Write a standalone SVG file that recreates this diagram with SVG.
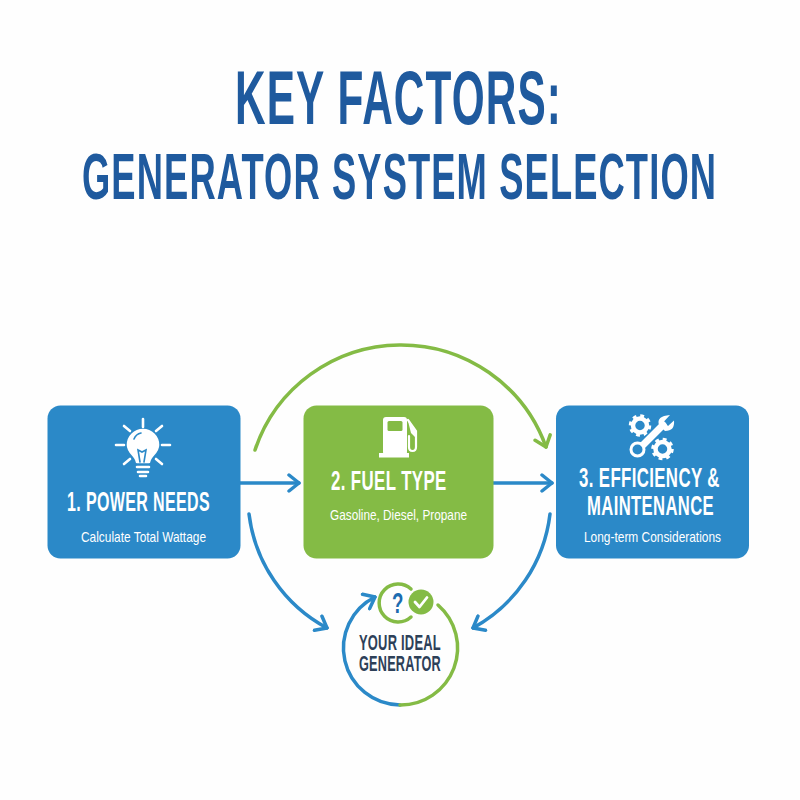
<svg xmlns="http://www.w3.org/2000/svg" width="800" height="800" viewBox="0 0 800 800">
<style>
text{font-family:"Liberation Sans",Arial,sans-serif;text-anchor:start}
.t{fill:#1f5a9e;font-weight:700;letter-spacing:2px}
.h{fill:#fff;font-weight:700;font-size:27px;letter-spacing:.6px}
.s{fill:#fff;font-size:15px}
.d{fill:#2d4058;font-weight:700;font-size:22.500px;letter-spacing:.4px}
.box{stroke:none}
.b{fill:#2b89c8}.g{fill:#84bb45}
.c{fill:none;stroke-width:3.500;stroke-linecap:round}
.cb{stroke:#2b89c8}.cg{stroke:#84bb45}
.w{fill:none;stroke:#fff;stroke-linecap:round;stroke-linejoin:round}
</style>
<defs>
<marker id="ab" viewBox="0 0 14 20" refX="12" refY="10" markerWidth="14" markerHeight="20" markerUnits="userSpaceOnUse" orient="auto"><path d="M2 2L12 10L2 18" fill="none" stroke="#2b89c8" stroke-width="3.500" stroke-linecap="round" stroke-linejoin="round"/></marker>
<marker id="ag" viewBox="0 0 14 20" refX="12" refY="10" markerWidth="14" markerHeight="20" markerUnits="userSpaceOnUse" orient="auto"><path d="M2 2L12 10L2 18" fill="none" stroke="#84bb45" stroke-width="3.500" stroke-linecap="round" stroke-linejoin="round"/></marker>
</defs>
<rect width="800" height="800" fill="#fefefe"/>
<g id="title">
<text class="t" transform="translate(235 124) scale(.56 1)" font-size="76" textLength="584" lengthAdjust="spacingAndGlyphs">KEY FACTORS:</text>
<text class="t" transform="translate(82 199) scale(.58 1)" font-size="64" textLength="1095" lengthAdjust="spacingAndGlyphs">GENERATOR SYSTEM SELECTION</text>
</g>
<g id="connectors">
<path class="c cb" d="M240 483H299" marker-end="url(#ab)"/>
<path class="c cb" d="M493 483H552" marker-end="url(#ab)"/>
<path class="c cg" d="M255 450A154 154 0 0 1 546 447" marker-end="url(#ag)"/>
<path class="c cb" d="M249 514A150 150 0 0 0 327 628" marker-end="url(#ab)"/>
<path class="c cb" d="M550 514A150 150 0 0 1 473 628" marker-end="url(#ab)"/>
</g>
<g id="node-power">
<rect class="box b" x="47.5" y="405.5" width="193" height="153" rx="13"/>
<g class="w" stroke-width="2.600">
<path d="M143 419V427M116 445H124M162 445H170M124 426L130 431M162 426L156 431M124 464L130 459M162 464L156 459"/>
<path d="M137 462C136 455 128 453 128 445A15 15 0 0 1 158 445C158 453 150 455 149 462Z" fill="#fff" stroke="#fff"/>
<path d="M137 467H149M138 472H148M140 476H146"/>
</g>
<path d="M140 462L138 450L142 452L146 450L144 462M134 439Q136 434 141 433" fill="none" stroke="#2b89c8" stroke-width="1.600" stroke-linecap="round"/>
<text class="h" transform="translate(67 511) scale(.65 1)" textLength="220" lengthAdjust="spacingAndGlyphs">1. POWER NEEDS</text>
<text class="s" x="81" y="542" textLength="125" lengthAdjust="spacingAndGlyphs">Calculate Total Wattage</text>
</g>
<g id="node-fuel">
<rect class="box g" x="303.5" y="405.5" width="190" height="153" rx="13"/>
<rect x="383" y="417" width="24" height="38" rx="3" fill="#fff"/>
<rect x="379" y="453" width="30" height="4.500" fill="#fff"/>
<rect x="387.500" y="421" width="15" height="10" rx="1.500" fill="#84bb45"/>
<path d="M408 420L416 431V447Q416 451 412.500 451Q409 451 409 447V436" fill="none" stroke="#fff" stroke-width="2.200" stroke-linecap="round"/>
<path d="M408 421L416 432V438L411 433Z" fill="#fff"/>
<text class="h" transform="translate(331 490) scale(.65 1)" textLength="178" lengthAdjust="spacingAndGlyphs">2. FUEL TYPE</text>
<text class="s" x="330" y="520" textLength="137" lengthAdjust="spacingAndGlyphs">Gasoline, Diesel, Propane</text>
</g>
<g id="node-efficiency">
<rect class="box b" x="556" y="405.5" width="193" height="153" rx="13"/>
<g fill="none" stroke="#fff">
<circle cx="640" cy="425.500" r="7" stroke-width="4.500"/>
<circle cx="640" cy="425.500" r="9.500" stroke-width="3.500" stroke-dasharray="3.700 3.750"/>
<circle cx="662.500" cy="449" r="7" stroke-width="4.500"/>
<circle cx="662.500" cy="449" r="9.500" stroke-width="3.500" stroke-dasharray="3.700 3.750"/>
</g>
<path d="M638 450L663 425" stroke="#2b89c8" stroke-width="10" stroke-linecap="round"/>
<path d="M639 449L663 425" stroke="#fff" stroke-width="7" stroke-linecap="round"/>
<circle cx="637.500" cy="449.500" r="6.500" fill="#2b89c8" stroke="#fff" stroke-width="3"/>
<path d="M659 425Q656 416 670 415L664 421.500L668 426L674 420.500Q675 431 665 431Z" fill="#fff"/>
<text class="h" transform="translate(579 487) scale(.62 1)" textLength="227" lengthAdjust="spacingAndGlyphs">3. EFFICIENCY &amp;</text>
<text class="h" transform="translate(587 515) scale(.62 1)" textLength="205" lengthAdjust="spacingAndGlyphs">MAINTENANCE</text>
<text class="s" x="584" y="542" textLength="137" lengthAdjust="spacingAndGlyphs">Long-term Considerations</text>
</g>
<g id="node-ideal">
<path class="c cb" d="M400 705A57 57 0 0 1 375 597" marker-end="url(#ab)"/>
<path class="c cg" d="M400 705A57 57 0 0 0 438 605"/>
<path class="c cg" d="M411 617A19 19 0 1 1 411 589" stroke-width="3"/>
<circle cx="421" cy="602" r="12.500" fill="#84bb45"/>
<path d="M415 602L419.500 607L427 597.500" fill="none" stroke="#fff" stroke-width="2.800" stroke-linecap="round" stroke-linejoin="round"/>
<text x="388" y="613" font-size="29" font-weight="700" fill="#1c6cb0" textLength="19" lengthAdjust="spacingAndGlyphs" transform="translate(398 0) scale(.6 1) translate(-398 0)">?</text>
<text class="d" transform="translate(359 650) scale(.55 1)" textLength="149" lengthAdjust="spacingAndGlyphs">YOUR IDEAL</text>
<text class="d" transform="translate(359 671) scale(.55 1)" textLength="149" lengthAdjust="spacingAndGlyphs">GENERATOR</text>
</g>
</svg>
